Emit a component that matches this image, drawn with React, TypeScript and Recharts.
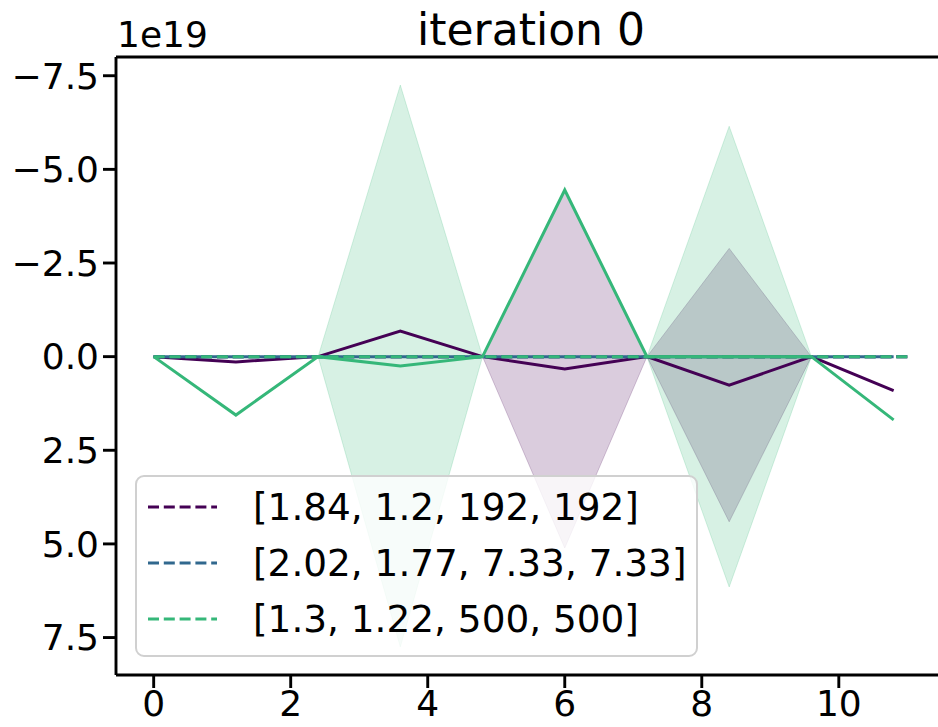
import React from 'react';
import { ComposedChart, Line, Area, XAxis, YAxis, ReferenceLine, Legend } from 'recharts';

// values in units of 1e19
const xs = [0, 1.2, 2.4, 3.6, 4.8, 6.0, 7.2, 8.4, 9.6, 10.8];
const targetEnd = 11;
const purpleMean = [0, 0.14, 0, -0.68, 0, 0.33, 0, 0.76, 0, 0.91];
const purpleStd = [0, 0, 0, 0, 0, 4.78, 0, 3.65, 0, 0];
const blueMean = [0, 0, 0, 0, 0, 0, 0, 0, 0, 0];
const greenMean = [0, 1.56, 0, 0.25, 0, -4.45, 0, 0, 0, 1.69];
const greenStd = [0, 0, 0, 7.5, 0, 0, 0, 6.15, 0, 0];
const labels = ['[1.84, 1.2, 192, 192]', '[2.02, 1.77, 7.33, 7.33]', '[1.3, 1.22, 500, 500]'];
const colors = ['#440154', '#31688e', '#35b779'];
const xTicks = [0, 2, 4, 6, 8, 10];
const yTicks = [-7.5, -5, -2.5, 0, 2.5, 5, 7.5];

const FONT = 'DejaVu Sans';

const rows: any[] = xs.map((x, i) => ({
  x,
  p: purpleMean[i],
  pBand: [purpleMean[i] - purpleStd[i], purpleMean[i] + purpleStd[i]],
  b: blueMean[i],
  g: greenMean[i],
  gBand: [greenMean[i] - greenStd[i], greenMean[i] + greenStd[i]],
  t0: 0,
  t1: 0,
  t2: 0,
}));
rows.push({ x: targetEnd, p: null, pBand: null, b: null, g: null, gBand: null, t0: 0, t1: 0, t2: 0 });

// matplotlib-like 5% margins
const lows = rows.flatMap((r) => [r.pBand?.[0], r.gBand?.[0]]).filter((v) => v != null) as number[];
const highs = rows.flatMap((r) => [r.pBand?.[1], r.gBand?.[1]]).filter((v) => v != null) as number[];
const yMin = Math.min(...lows);
const yMax = Math.max(...highs);
const yPad = (yMax - yMin) * 0.05;
const yDomain = [yMin - yPad, yMax + yPad];
const xPad = (targetEnd - 0) * 0.05;
const xDomain = [0 - xPad, targetEnd + xPad];

const fmtY = (v: number) => (v < 0 ? '\u2212' : '') + Math.abs(v).toFixed(1);

const tickStyle = { fill: '#000', fontSize: 36, fontFamily: FONT };
const spine = { stroke: '#000', strokeWidth: 2.9 };

const LegendBox = () => (
  <svg width={563} height={182} style={{ display: 'block' }}>
    <rect x={1} y={1} width={561} height={180} rx={8} ry={8} fill="rgba(255,255,255,0.8)" stroke="#d0d0d0" strokeWidth={2} />
    {labels.map((lab, i) => {
      const cy = 32 + i * 56;
      return (
        <g key={lab}>
          <line x1={13} x2={82} y1={cy} y2={cy} stroke={colors[i]} strokeWidth={3} strokeDasharray="11 4.8" />
          <text x={118} y={cy + 13} fontSize={37.4} fontFamily={FONT} fill="#000">
            {lab}
          </text>
        </g>
      );
    })}
  </svg>
);

export default function App() {
  return (
    <div style={{ position: 'absolute', left: 0, top: 0, width: 938, height: 727, overflow: 'hidden', background: '#fff' }}>
      <svg width={938} height={60} style={{ position: 'absolute', left: 0, top: 0, zIndex: 2 }}>
        <text x={531} y={45} textAnchor="middle" fontSize={44} fontFamily={FONT} fill="#000">
          iteration 0
        </text>
        <text x={117} y={47} fontSize={36} fontFamily={FONT} fill="#000">
          1e19
        </text>
      </svg>
      <ComposedChart width={960} height={727} data={rows} margin={{ top: 57, right: 15, left: 0, bottom: 0 }}>
        <XAxis
          dataKey="x"
          type="number"
          domain={xDomain}
          allowDataOverflow
          ticks={xTicks}
          interval={0}
          height={52}
          tickSize={13}
          tickMargin={2}
          tick={tickStyle}
          axisLine={spine}
          tickLine={spine}
        />
        <YAxis
          type="number"
          domain={yDomain}
          allowDataOverflow
          reversed
          ticks={yTicks}
          interval={0}
          width={116}
          tickSize={13}
          tickMargin={4}
          tick={tickStyle}
          tickFormatter={fmtY}
          axisLine={spine}
          tickLine={spine}
        />
        <Area dataKey="pBand" type="linear" fill={colors[0]} fillOpacity={0.2} stroke={colors[0]} strokeOpacity={0.2} strokeWidth={1} isAnimationActive={false} legendType="none" dot={false} activeDot={false} />
        <Line dataKey="p" type="linear" stroke={colors[0]} strokeWidth={3} dot={false} activeDot={false} isAnimationActive={false} legendType="none" />
        <Line dataKey="t0" type="linear" stroke={colors[0]} strokeWidth={3} strokeDasharray="11 4.8" dot={false} activeDot={false} isAnimationActive={false} />
        <Line dataKey="b" type="linear" stroke={colors[1]} strokeWidth={3} dot={false} activeDot={false} isAnimationActive={false} legendType="none" />
        <Line dataKey="t1" type="linear" stroke={colors[1]} strokeWidth={3} strokeDasharray="11 4.8" dot={false} activeDot={false} isAnimationActive={false} />
        <Area dataKey="gBand" type="linear" fill={colors[2]} fillOpacity={0.2} stroke={colors[2]} strokeOpacity={0.2} strokeWidth={1} isAnimationActive={false} legendType="none" dot={false} activeDot={false} />
        <Line dataKey="g" type="linear" stroke={colors[2]} strokeWidth={3} dot={false} activeDot={false} isAnimationActive={false} legendType="none" />
        <Line dataKey="t2" type="linear" stroke={colors[2]} strokeWidth={3} strokeDasharray="11 4.8" dot={false} activeDot={false} isAnimationActive={false} />
        <ReferenceLine y={yDomain[0]} stroke="#000" strokeWidth={2.9} ifOverflow="visible" />
        <Legend
          layout="vertical"
          align="center"
          verticalAlign="middle"
          content={() => <LegendBox />}
          wrapperStyle={{ left: 135, top: 475, width: 563, height: 182 }}
        />
      </ComposedChart>
    </div>
  );
}
